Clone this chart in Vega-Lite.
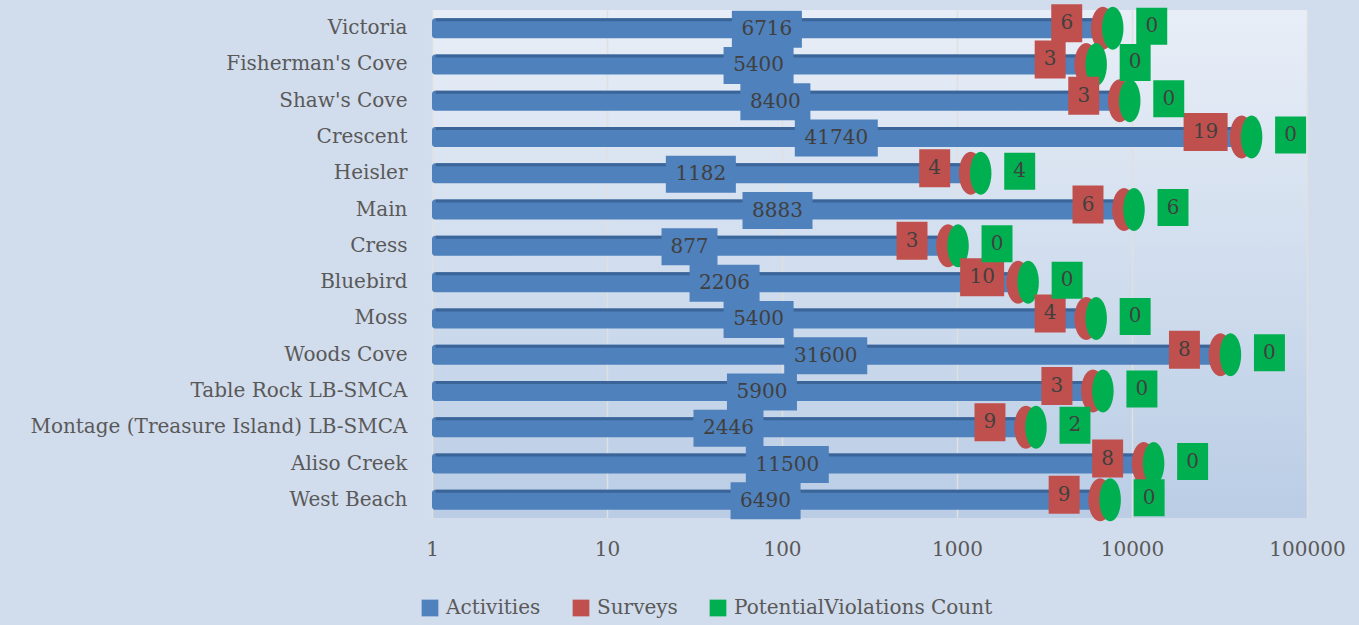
{
  "$schema": "https://vega.github.io/schema/vega-lite/v6.json",
  "width": 875,
  "height": 508,
  "autosize": {"type": "none"},
  "padding": {"left": 432, "top": 10, "right": 52, "bottom": 107},
  "background": "#d1dcec",
  "config": {
    "view": {"stroke": null, "fill": {"gradient": "linear", "x1": 0, "y1": 0, "x2": 0, "y2": 1, "stops": [{"offset": 0, "color": "#e8eef7"}, {"offset": 1, "color": "#bacde5"}]}},
    "font": "DejaVu Serif",
    "text": {"font": "DejaVu Serif"}
  },
  "data": {
    "values": [
      {"Location": "Victoria", "Activities": 6716, "Surveys": 6, "PotentialViolations": 0},
      {"Location": "Fisherman's Cove", "Activities": 5400, "Surveys": 3, "PotentialViolations": 0},
      {"Location": "Shaw's Cove", "Activities": 8400, "Surveys": 3, "PotentialViolations": 0},
      {"Location": "Crescent", "Activities": 41740, "Surveys": 19, "PotentialViolations": 0},
      {"Location": "Heisler", "Activities": 1182, "Surveys": 4, "PotentialViolations": 4},
      {"Location": "Main", "Activities": 8883, "Surveys": 6, "PotentialViolations": 6},
      {"Location": "Cress", "Activities": 877, "Surveys": 3, "PotentialViolations": 0},
      {"Location": "Bluebird", "Activities": 2206, "Surveys": 10, "PotentialViolations": 0},
      {"Location": "Moss", "Activities": 5400, "Surveys": 4, "PotentialViolations": 0},
      {"Location": "Woods Cove", "Activities": 31600, "Surveys": 8, "PotentialViolations": 0},
      {"Location": "Table Rock LB-SMCA", "Activities": 5900, "Surveys": 3, "PotentialViolations": 0},
      {"Location": "Montage (Treasure Island) LB-SMCA", "Activities": 2446, "Surveys": 9, "PotentialViolations": 2},
      {"Location": "Aliso Creek", "Activities": 11500, "Surveys": 8, "PotentialViolations": 0},
      {"Location": "West Beach", "Activities": 6490, "Surveys": 9, "PotentialViolations": 0}
    ]
  },
  "transform": [
    {"calculate": "sqrt(datum.Activities)", "as": "mid"},
    {"calculate": "length(toString(datum.Activities))", "as": "aDigits"},
    {"calculate": "length(toString(datum.Surveys))", "as": "sDigits"}
  ],
  "encoding": {
    "y": {
      "field": "Location", "type": "nominal", "sort": null,
      "scale": {"paddingInner": 0, "paddingOuter": 0},
      "axis": {"title": null, "domain": false, "ticks": false, "labelPadding": 25, "labelLimit": 0, "labelFontSize": 20, "labelColor": "#595959", "labelFont": "DejaVu Serif"}
    }
  },
  "layer": [
    {
      "mark": {"type": "bar", "size": 20, "cornerRadius": 3},
      "encoding": {
        "x": {
          "field": "Activities", "type": "quantitative",
          "scale": {"type": "log", "domain": [1, 100000]},
          "axis": {"title": null, "values": [1, 10, 100, 1000, 10000, 100000], "format": "d", "grid": true, "gridColor": "#e0e0e0", "gridWidth": 1.5, "domain": false, "ticks": false, "labelFlush": false, "labelOverlap": false, "labelPadding": 21, "labelFontSize": 20, "labelColor": "#595959", "labelFont": "DejaVu Serif"}
        },
        "x2": {"datum": 1},
        "color": {
          "datum": "Activities",
          "scale": {"domain": ["Activities", "Surveys", "PotentialViolations Count"], "range": ["#4F81BD", "#C0504D", "#00B050"]},
          "legend": {"orient": "none", "legendX": -12, "legendY": 588, "direction": "horizontal", "title": null, "symbolType": "square", "symbolSize": 280, "symbolStrokeWidth": 0, "symbolOpacity": 1, "labelFontSize": 20, "labelLimit": 0, "labelColor": "#595959", "labelFont": "DejaVu Serif", "columnPadding": 30, "labelOffset": 6}
        }
      }
    },
    {
      "mark": {"type": "bar", "size": 3, "yOffset": -8.5, "color": "#3B6598"},
      "encoding": {
        "x": {"field": "Activities", "type": "quantitative"},
        "x2": {"datum": 1.05}
      }
    },
    {
      "mark": {"type": "point", "shape": "M0,-1A0.55,1 0 1,0 0,1A0.55,1 0 1,0 0,-1Z", "size": 1849, "filled": true, "opacity": 1, "color": "#C0504D", "strokeWidth": 0, "xOffset": 1},
      "encoding": {"x": {"field": "Activities", "type": "quantitative"}}
    },
    {
      "mark": {"type": "point", "shape": "M0,-1A0.5,1 0 1,1 0,1A0.5,1 0 1,1 0,-1Z", "size": 1849, "filled": true, "opacity": 1, "color": "#00B050", "strokeWidth": 0, "xOffset": 11},
      "encoding": {"x": {"field": "Activities", "type": "quantitative"}}
    },
    {
      "mark": {"type": "point", "size": 8100, "filled": true, "opacity": 1, "color": "#4F81BD", "strokeWidth": 0, "yOffset": 1},
      "encoding": {
        "x": {"field": "mid", "type": "quantitative"},
        "shape": {"field": "aDigits", "type": "nominal", "legend": null, "scale": {"domain": [3, 4, 5], "range": ["M-0.622,-0.411H0.622V0.411H-0.622Z", "M-0.778,-0.411H0.778V0.411H-0.778Z", "M-0.922,-0.411H0.922V0.411H-0.922Z"]}}
      }
    },
    {
      "mark": {"type": "text", "fontSize": 20, "color": "#404040", "baseline": "middle", "dy": 1},
      "encoding": {"x": {"field": "mid", "type": "quantitative"}, "text": {"field": "Activities", "type": "quantitative", "format": "d"}}
    },
    {
      "mark": {"type": "point", "size": 8100, "filled": true, "opacity": 1, "color": "#C0504D", "strokeWidth": 0, "xOffset": -35, "yOffset": -5},
      "encoding": {
        "x": {"field": "Activities", "type": "quantitative"},
        "shape": {"field": "sDigits", "type": "nominal", "legend": null, "scale": {"domain": [1, 2], "range": ["M-0.344,-0.422H0.344V0.422H-0.344Z", "M-0.489,-0.422H0.489V0.422H-0.489Z"]}}
      }
    },
    {
      "mark": {"type": "text", "fontSize": 20, "color": "#404040", "baseline": "middle", "dx": -35, "dy": -5},
      "encoding": {"x": {"field": "Activities", "type": "quantitative"}, "text": {"field": "Surveys", "type": "quantitative", "format": "d"}}
    },
    {
      "mark": {"type": "point", "shape": "M-0.344,-0.411H0.344V0.411H-0.344Z", "size": 8100, "filled": true, "opacity": 1, "color": "#00B050", "strokeWidth": 0, "xOffset": 50, "yOffset": -2},
      "encoding": {"x": {"field": "Activities", "type": "quantitative"}}
    },
    {
      "mark": {"type": "text", "fontSize": 20, "color": "#404040", "baseline": "middle", "dx": 50, "dy": -2},
      "encoding": {"x": {"field": "Activities", "type": "quantitative"}, "text": {"field": "PotentialViolations", "type": "quantitative", "format": "d"}}
    }
  ],
  "resolve": {"scale": {"shape": "independent"}}
}
